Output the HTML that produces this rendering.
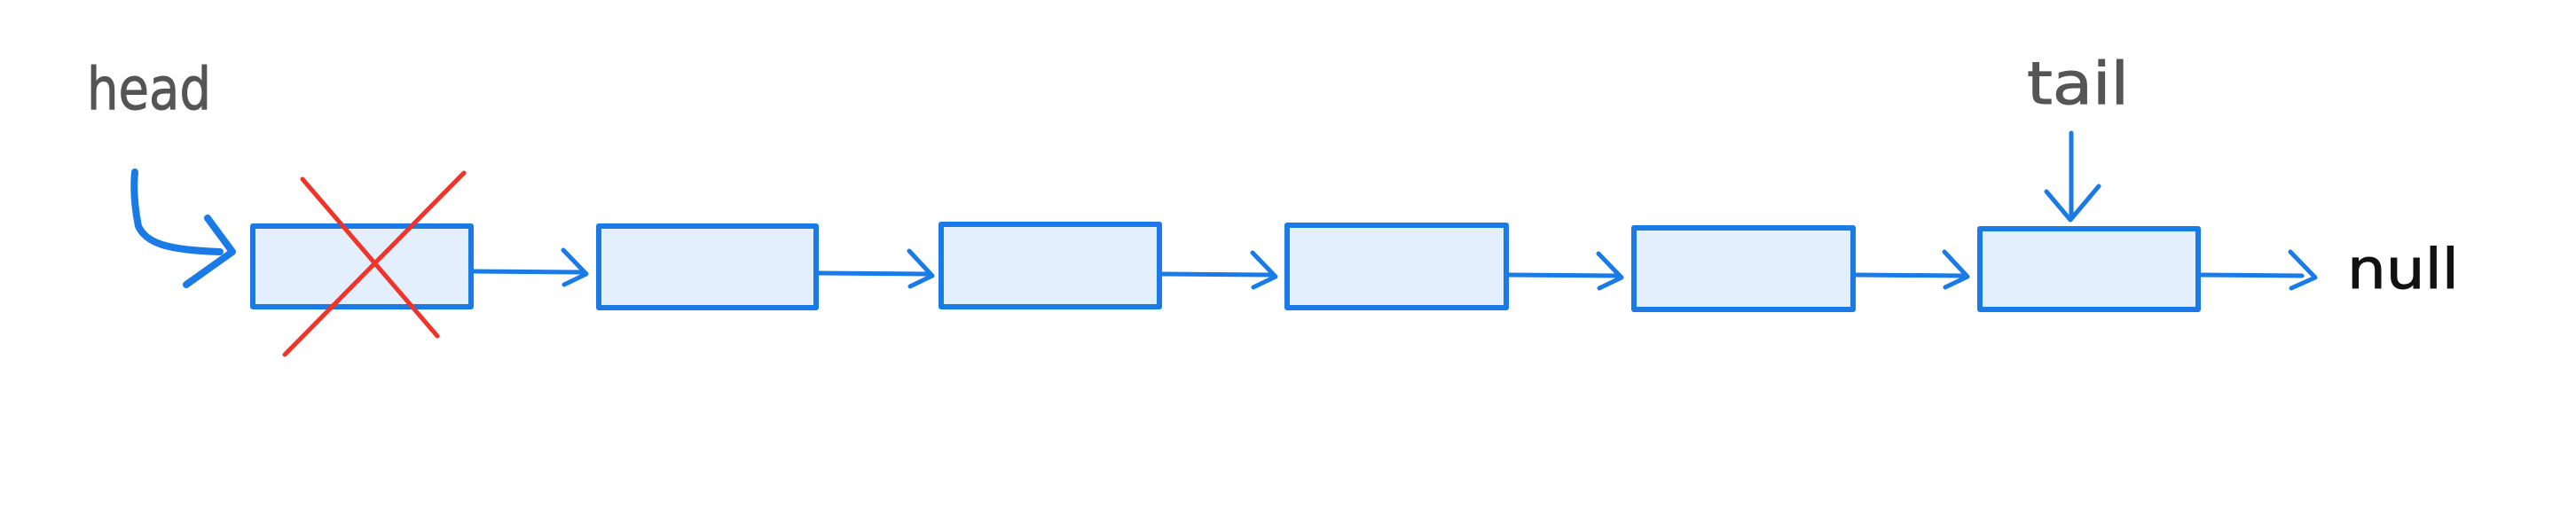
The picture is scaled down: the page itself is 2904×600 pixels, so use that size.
<!DOCTYPE html>
<html><head><meta charset="utf-8"><style>
html,body{margin:0;padding:0;background:#fff;}
svg{display:block;}
</style></head><body>
<svg width="2904" height="600" viewBox="0 0 2904 600" xmlns="http://www.w3.org/2000/svg">
<g fill="#e3effc" stroke="#1a7ae6" stroke-width="6" stroke-linejoin="round">
<rect x="285" y="255" width="246" height="91"/>
<rect x="675" y="255" width="245" height="92"/>
<rect x="1061" y="253" width="246" height="93"/>
<rect x="1451" y="254" width="247" height="93"/>
<rect x="1842" y="257" width="247" height="92"/>
<rect x="2232" y="258" width="246" height="91"/>
</g>
<g fill="none" stroke="#1a7ae6" stroke-width="5" stroke-linecap="round" stroke-linejoin="round">
<path d="M533 306 L656 307 M635 282 L661 309 L636 321"/>
<path d="M922 308 L1045 309 M1025 283 L1051 311 L1026 323"/>
<path d="M1309 309 L1432 310 M1412 285 L1438 312 L1413 324"/>
<path d="M1700 310 L1822 311 M1802 286 L1828 313 L1803 325"/>
<path d="M2091 310 L2213 311 M2192 284 L2218 312 L2193 324"/>
<path d="M2480 310 L2595 311 M2582 284 L2610 313 L2583 325"/>
<path d="M2335 150 L2335 247 M2307 216 L2334 248 L2366 210"/>
</g>
<g fill="none" stroke="#1a7ae6" stroke-width="8" stroke-linecap="round" stroke-linejoin="round">
<path d="M152 194 C150 215 152 235 156 255 C165 275 190 282 248 284"/>
<path d="M234 246 L262 284 L210 321"/>
</g>
<g stroke="#f0342a" stroke-width="5" stroke-linecap="round">
<line x1="341" y1="202" x2="493" y2="379"/>
<line x1="523" y1="195" x2="321" y2="400"/>
</g>
<text x="98" y="123" font-family="'DejaVu Sans', sans-serif" font-size="66" fill="#555" stroke="#555" stroke-width="1" textLength="140" lengthAdjust="spacingAndGlyphs">head</text>
<text x="2285" y="117" font-family="'DejaVu Sans', sans-serif" font-size="66" fill="#555" stroke="#555" stroke-width="1" textLength="115" lengthAdjust="spacingAndGlyphs">tail</text>
<text x="2646" y="325" font-family="'DejaVu Sans', sans-serif" font-size="62" fill="#111" stroke="#111" stroke-width="1" textLength="126" lengthAdjust="spacingAndGlyphs">null</text>
</svg>
</body></html>
